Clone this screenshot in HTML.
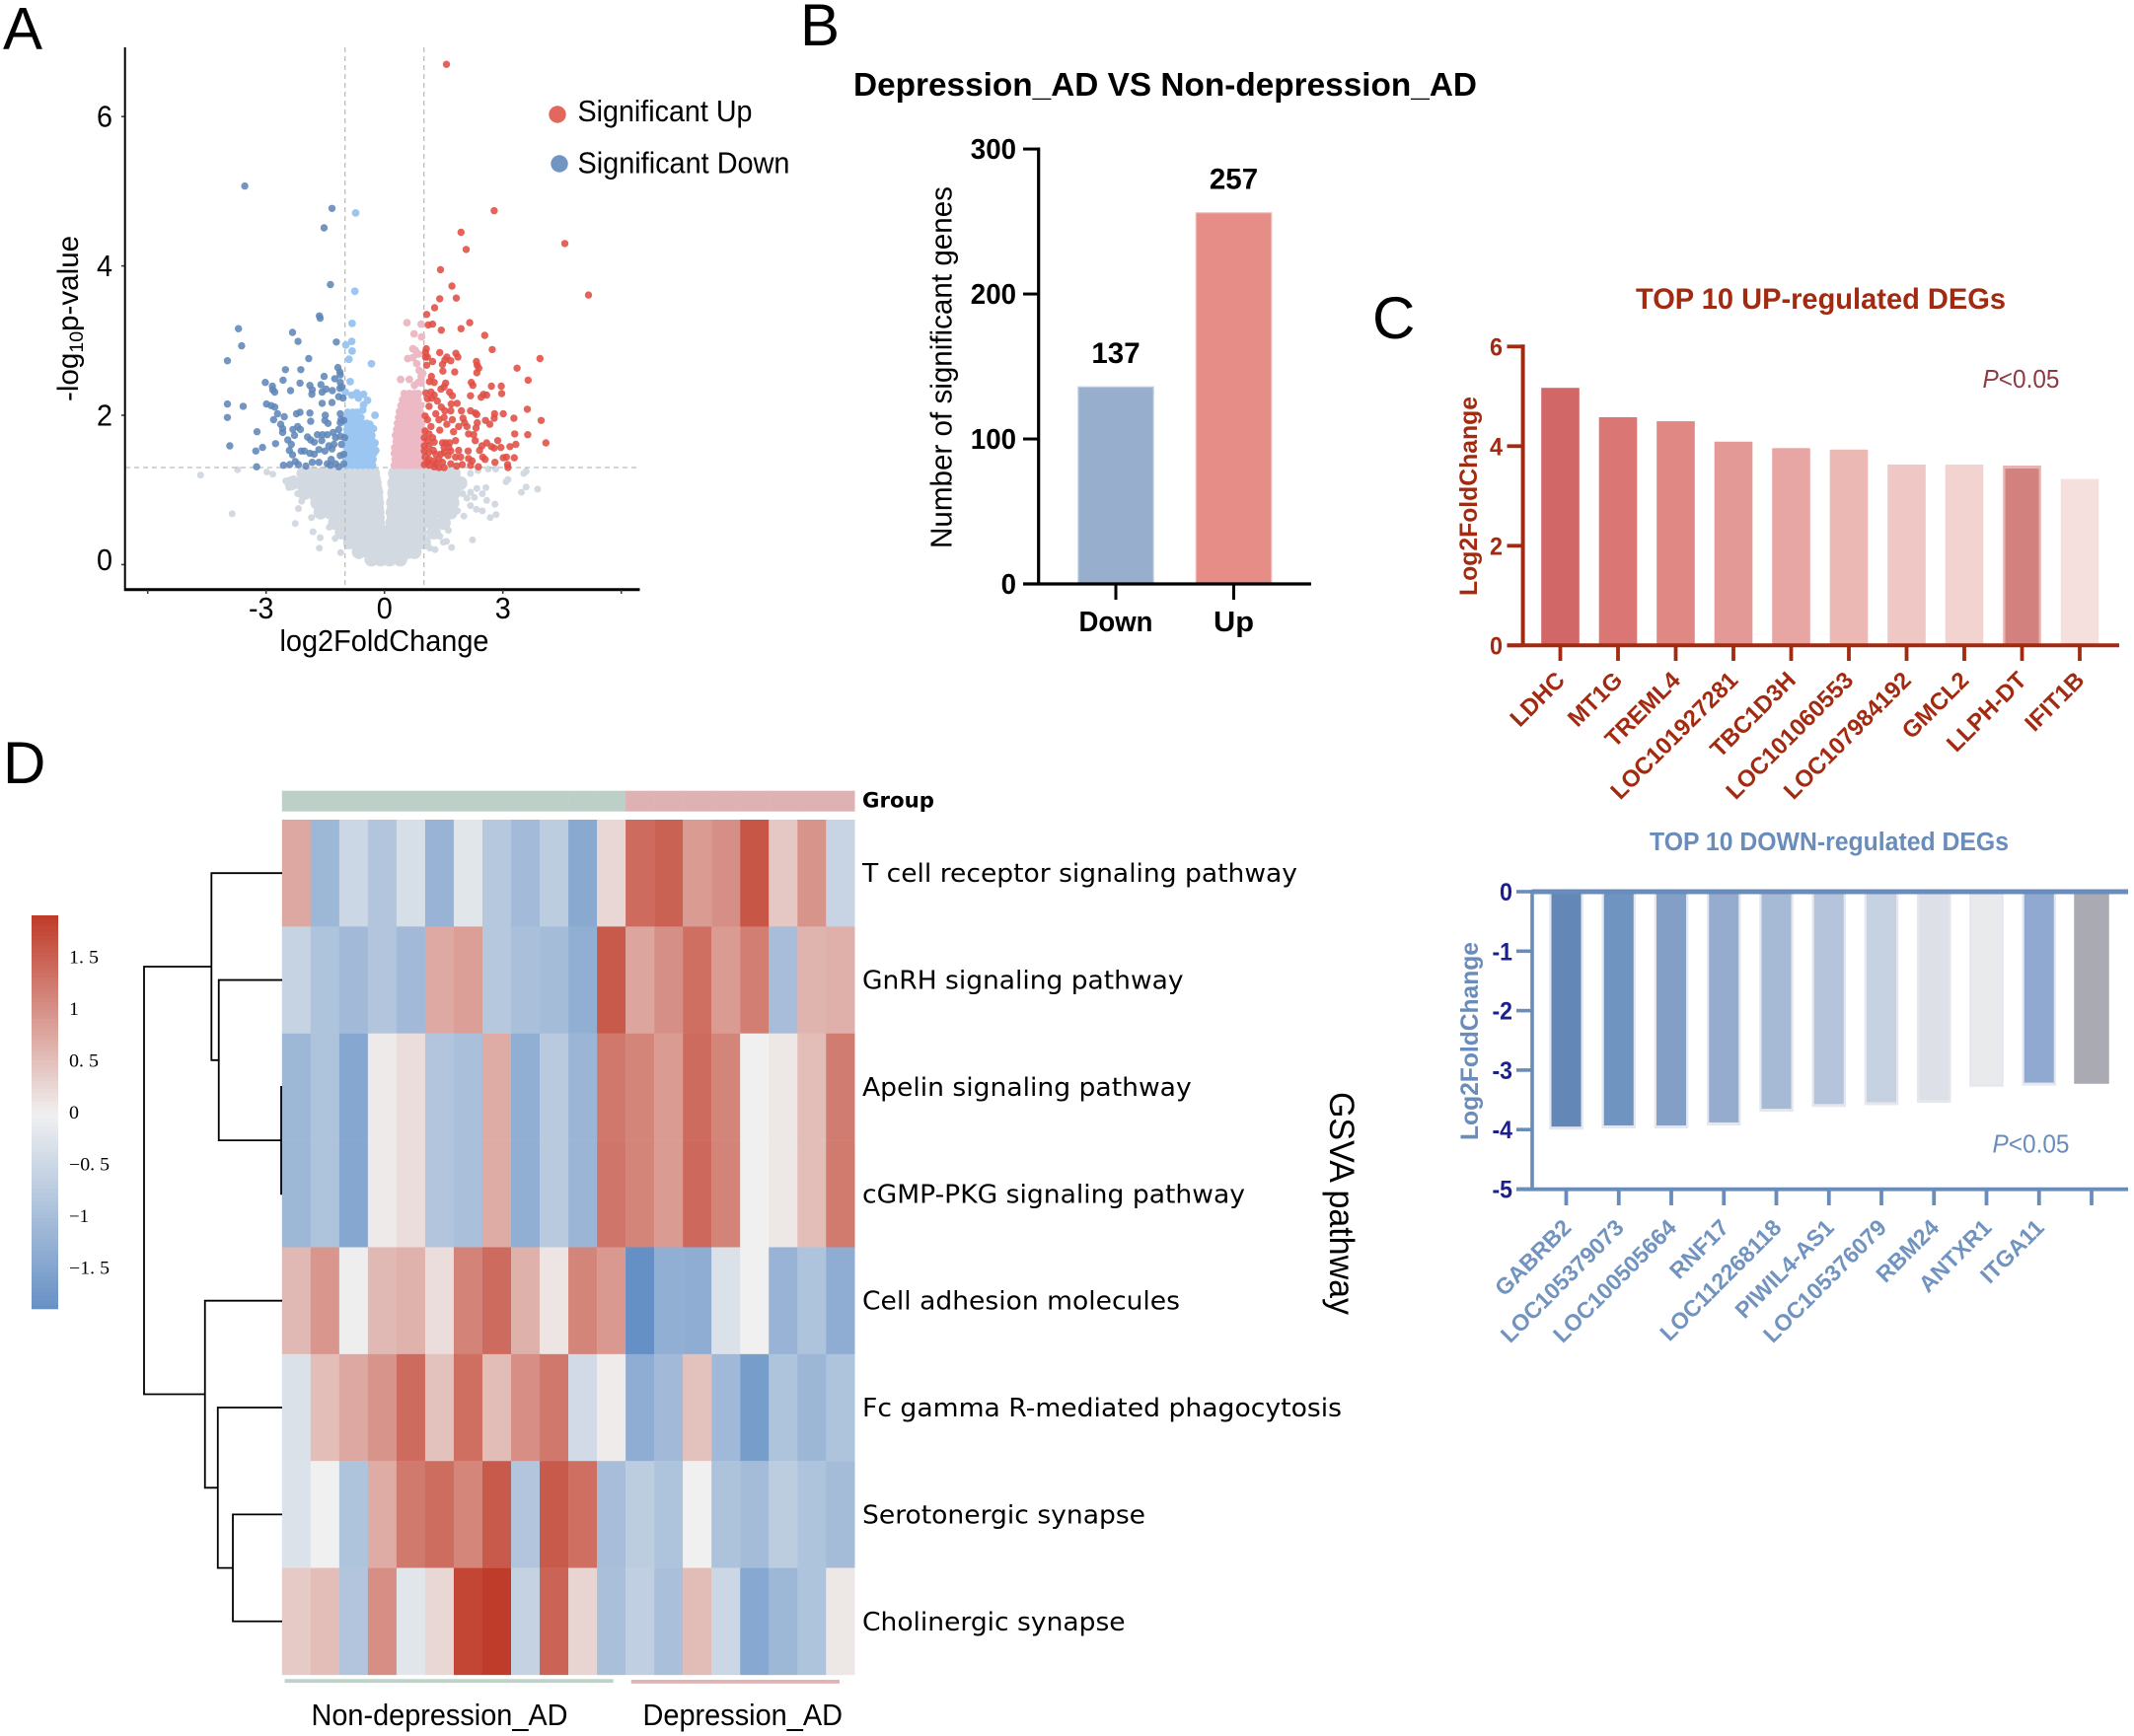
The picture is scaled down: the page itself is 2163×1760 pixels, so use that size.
<!DOCTYPE html>
<html lang="en">
<head>
<meta charset="utf-8">
<title>Depression_AD vs Non-depression_AD figure</title>
<style>
html,body{margin:0;padding:0;background:#fff;}
svg{display:block;}
text{font-family:"Liberation Sans",sans-serif;}
</style>
</head>
<body>
<svg id="fig" xmlns="http://www.w3.org/2000/svg" width="2163" height="1760" viewBox="0 0 2163 1760">
<rect width="2163" height="1760" fill="#fff"/>
<g font-size="60" fill="#000">
<text x="3" y="49.5">A</text>
<text x="811" y="46">B</text>
<text x="1391" y="343">C</text>
<text x="3" y="794">D</text>
</g>
<g id="volcano"></g>
<g id="countBars"></g>
<g id="upBars"></g>
<g id="downBars"></g>
<g id="heat"></g>

<g fill="#000" font-size="31">
<text x="283.5" y="660" textLength="212" lengthAdjust="spacingAndGlyphs">log2FoldChange</text>
<text font-size="29.6" transform="translate(79 407) rotate(-90)">-log<tspan font-size="19.5" dy="5">10</tspan><tspan dy="-5">p-value</tspan></text>
<circle cx="565" cy="116" r="8.7" fill="#e2675d"/>
<text x="585.5" y="123" textLength="177" lengthAdjust="spacingAndGlyphs">Significant Up</text>
<circle cx="567" cy="166" r="8.7" fill="#7095c2"/>
<text x="585.5" y="175.5" textLength="215" lengthAdjust="spacingAndGlyphs">Significant Down</text>
</g>

<g fill="#000">
<text x="865" y="97" font-size="33.3" font-weight="bold" textLength="632" lengthAdjust="spacingAndGlyphs">Depression_AD VS Non-depression_AD</text>
<text transform="translate(964.5 556) rotate(-90)" font-size="30.5" textLength="367" lengthAdjust="spacingAndGlyphs">Number of significant genes</text>
</g>

<g fill="#a22a10">
<text x="1658" y="313" font-size="29.5" font-weight="bold" textLength="375" lengthAdjust="spacingAndGlyphs">TOP 10 UP-regulated DEGs</text>
<text transform="translate(1497 604) rotate(-90)" font-size="24.7" font-weight="bold" textLength="202" lengthAdjust="spacingAndGlyphs">Log2FoldChange</text>
<text x="2009.5" y="393" font-size="25.5" fill="#8e3a45" textLength="78" lengthAdjust="spacingAndGlyphs"><tspan font-style="italic">P</tspan>&lt;0.05</text>
</g>

<g fill="#6a8cbb">
<text x="1672" y="862" font-size="25.5" font-weight="bold" textLength="364" lengthAdjust="spacingAndGlyphs">TOP 10 DOWN-regulated DEGs</text>
<text transform="translate(1498 1156) rotate(-90)" font-size="24.7" font-weight="bold" textLength="201" lengthAdjust="spacingAndGlyphs">Log2FoldChange</text>
<text x="2019.5" y="1168.5" font-size="25.5" textLength="78" lengthAdjust="spacingAndGlyphs"><tspan font-style="italic">P</tspan>&lt;0.05</text>
</g>

<g fill="#000">
<text x="874" y="818.5" font-size="21" font-weight="bold" style="font-family:'DejaVu Sans',sans-serif" textLength="73" lengthAdjust="spacingAndGlyphs">Group</text>
<text transform="translate(1348 1107) rotate(90)" font-size="35" textLength="226" lengthAdjust="spacingAndGlyphs">GSVA pathway</text>
<rect x="288.6" y="1702.3" width="333" height="3.8" fill="#bcd3c9"/>
<rect x="639.7" y="1703" width="211.3" height="3.8" fill="#e0b4b4"/>
<text x="315.5" y="1749" font-size="31" textLength="260" lengthAdjust="spacingAndGlyphs">Non-depression_AD</text>
<text x="651.5" y="1749" font-size="31" textLength="202.5" lengthAdjust="spacingAndGlyphs">Depression_AD</text>
</g>
</svg>

<script>
/* ---------- Panel A: volcano values (log2FC, -log10 p) ---------- */
const volcanoXTicks = [-6, -3, 0, 3, 6];
const volcanoXTickLabels = ['', '-3', '0', '3', ''];
const volcanoYTicks = [0, 2, 4, 6];
const volcanoFoldCutoffs = [-1, 1];
const volcanoPCutoff = 1.3;

const upPoints = [[1.57,6.70],[2.78,4.74],[1.94,4.45],[2.07,4.22],[4.57,4.30],[5.17,3.61],[1.42,3.95],[1.71,3.73],[1.40,3.56],[1.82,3.57],[1.27,3.44],[1.07,3.35],[2.16,3.24],[1.11,3.21],[1.22,3.22],
[1.44,3.14],[1.94,3.16],[2.54,3.07],[2.73,2.88],[3.94,2.76],[3.36,2.63],[3.64,2.47],[1.06,2.89],[1.04,2.84],[1.04,2.78],[1.09,2.78],[1.07,2.67],[1.22,2.72],[1.40,2.84],[1.58,2.78],[1.68,2.73],[1.47,2.68],[1.53,2.74],[1.81,2.83],[1.86,2.78],[2.33,2.72],[2.35,2.67],[2.39,2.63],[2.34,2.57],[1.48,2.59],[1.78,2.58],
[1.19,2.52],[1.14,2.45],[1.26,2.44],[1.55,2.43],[1.51,2.38],[1.43,2.35],[1.65,2.31],[1.72,2.26],[2.20,2.44],[2.24,2.40],[2.71,2.39],[2.96,2.39],[2.97,2.29],[2.51,2.28],[2.59,2.27],[2.45,2.24],[2.18,2.26],
[1.05,2.30],[1.18,2.31],[1.26,2.27],[1.09,2.22],[1.19,2.23],[1.34,2.19],[1.13,2.12],[1.69,2.15],[1.84,2.16],[1.44,2.11],[1.53,2.06],[1.68,2.06],[1.95,2.06],[2.18,2.06],[2.30,2.03],[2.34,2.01],[3.62,2.08],[3.97,1.93],[3.01,2.02],[3.28,1.96],[2.79,2.02],[2.78,1.96],[2.56,1.93],[2.67,1.88],[2.35,1.90],[2.32,1.83],
[1.03,1.99],[1.09,1.94],[1.30,2.02],[1.38,1.94],[1.51,1.97],[1.58,1.88],[1.72,1.94],[1.99,1.96],[2.03,1.90],[2.09,1.85],[1.88,1.85],[1.40,1.80],[1.75,1.78],[1.18,1.85],[1.03,1.79],[1.13,1.75],[2.13,1.75],[2.26,1.74],[2.30,1.66],[3.30,1.75],[3.63,1.74],[4.09,1.63],[2.87,1.66],
[1.01,1.70],[1.09,1.66],[1.22,1.70],[1.01,1.59],[1.13,1.59],[1.26,1.64],[1.01,1.52],[1.12,1.50],[1.24,1.53],[1.30,1.48],[1.47,1.63],[1.55,1.63],[1.65,1.63],[1.80,1.66],[1.51,1.57],[1.63,1.57],[1.51,1.50],[1.68,1.52],[1.88,1.53],[2.12,1.52],[2.41,1.53],[2.47,1.59],[2.59,1.63],[2.71,1.58],[2.78,1.56],[2.95,1.57],[3.18,1.58],[3.33,1.61],[3.29,1.43],[3.09,1.44],[3.01,1.43],[2.80,1.37],[3.12,1.34],[3.13,1.30],
[1.03,1.44],[1.13,1.41],[1.26,1.39],[1.38,1.41],[1.43,1.48],[1.61,1.46],[1.80,1.44],[1.93,1.44],[2.13,1.42],[2.22,1.39],[2.49,1.44],[2.55,1.41],
[1.01,1.34],[1.13,1.33],[1.26,1.31],[1.38,1.30],[1.51,1.30],[1.68,1.35],[1.83,1.32],[1.97,1.34],[2.18,1.33],[2.38,1.31],[1.09,1.37],[1.30,1.35],[1.47,1.37]];

const downPoints = [[-3.54,5.07],[-1.33,4.77],[-1.53,4.51],[-1.37,3.75],[-1.65,3.33],[-1.63,3.30],
[-3.70,3.16],[-3.62,2.93],[-3.98,2.73],[-2.33,3.11],[-2.19,2.99],[-1.22,2.98],[-1.92,2.76],[-2.51,2.61],[-2.12,2.61],[-1.18,2.64],[-1.13,2.58],[-1.12,2.54],[-1.53,2.52],[-3.02,2.44],[-2.57,2.47],[-2.14,2.43],[-2.84,2.39],[-2.83,2.34],[-2.78,2.31],[-2.38,2.33],[-1.89,2.40],[-1.83,2.34],[-1.84,2.28],[-1.61,2.41],[-1.48,2.35],[-1.58,2.31],[-1.32,2.33],[-1.26,2.49],[-1.12,2.44],[-1.08,2.38],[-1.13,2.36],[-1.16,2.25],[-1.05,2.23],
[-3.98,2.15],[-3.58,2.12],[-3.98,1.97],[-2.99,2.15],[-2.87,2.13],[-2.78,2.11],[-1.58,2.16],[-1.33,2.17],[-2.71,2.02],[-2.54,1.98],[-2.81,1.94],[-2.23,2.02],[-2.14,2.04],[-1.89,2.03],[-1.50,2.00],[-1.87,1.92],[-1.51,1.93],[-1.43,1.89],[-1.12,2.02],[-1.10,1.94],[-1.03,1.93],[-1.12,1.90],
[-2.63,1.88],[-2.58,1.82],[-2.58,1.77],[-3.23,1.78],[-2.20,1.85],[-2.32,1.81],[-2.13,1.81],[-2.28,1.73],[-2.45,1.67],[-2.36,1.61],[-2.76,1.62],[-3.92,1.59],[-1.95,1.71],[-1.87,1.67],[-1.78,1.64],[-1.70,1.74],[-1.57,1.74],[-1.59,1.66],[-1.45,1.74],[-1.30,1.77],[-1.16,1.81],[-1.24,1.70],[-1.12,1.72],[-1.01,1.70],[-1.41,1.59],[-1.28,1.61],[-1.33,1.55],[-1.09,1.61],
[-3.09,1.57],[-3.26,1.52],[-3.24,1.31],[-2.41,1.53],[-2.33,1.47],[-2.11,1.52],[-2.03,1.52],[-1.89,1.49],[-1.78,1.48],[-1.66,1.54],[-1.51,1.52],[-1.12,1.46],[-1.03,1.48],[-1.35,1.41],[-1.83,1.37],[-1.66,1.37],[-2.26,1.38],[-2.18,1.34],[-2.40,1.34],[-2.56,1.33],[-1.99,1.32],[-1.45,1.35],[-1.37,1.33],[-1.24,1.35],[-1.16,1.31],[-1.03,1.35]];

const weakDownPoints = [[-0.73,4.71],[-0.75,3.66],[-0.82,3.23],[-0.83,2.99],[-0.98,2.94],[-0.82,2.86],[-0.90,2.75],[-0.33,2.69],[-0.87,2.45],[-0.99,2.31],[-0.83,2.27],[-0.70,2.30],[-0.66,2.23],[-0.53,2.28],[-0.43,2.20],[-0.53,2.14],[-0.55,2.07],[-0.24,2.00],[-0.37,1.88],[-0.28,1.82],[-0.24,1.63],[-0.22,1.53],
[-.95,1.33],[-.82,1.33],[-.68,1.33],[-.55,1.33],[-.42,1.33],[-.30,1.33],[-.97,1.41],[-.84,1.41],[-.70,1.41],[-.57,1.41],[-.44,1.41],[-.29,1.41],[-.93,1.49],[-.80,1.49],[-.66,1.49],[-.53,1.49],[-.40,1.49],[-.27,1.49],[-.96,1.57],[-.83,1.57],[-.69,1.57],[-.56,1.57],[-.43,1.57],[-.28,1.57],[-.94,1.65],[-.81,1.65],[-.67,1.65],[-.54,1.65],[-.41,1.65],[-.30,1.65],[-.97,1.73],[-.84,1.73],[-.70,1.73],[-.57,1.73],[-.44,1.73],[-.32,1.73],[-.95,1.81],[-.82,1.81],[-.68,1.81],[-.55,1.81],[-.40,1.81],[-.96,1.89],[-.83,1.89],[-.70,1.89],[-.56,1.89],[-.45,1.89],[-.97,1.97],[-.85,1.97],[-.72,1.97],[-.60,1.97],[-.93,2.04],[-.80,2.04],[-.70,2.04]];

const weakUpPoints = [[0.57,3.24],[0.93,3.22],[0.75,3.09],[0.94,3.05],[0.72,2.89],[0.78,2.87],[0.59,2.76],[0.72,2.77],[0.86,2.82],[0.82,2.69],[0.88,2.60],[0.97,2.56],[0.93,2.52],[0.41,2.48],[0.63,2.48],[0.86,2.44],[0.76,2.40],[0.93,2.43],
[.25,1.33],[.38,1.33],[.51,1.33],[.64,1.33],[.77,1.33],[.90,1.33],[.27,1.41],[.40,1.41],[.53,1.41],[.66,1.41],[.79,1.41],[.93,1.41],[.25,1.49],[.39,1.49],[.52,1.49],[.65,1.49],[.78,1.49],[.92,1.49],[.26,1.57],[.40,1.57],[.53,1.57],[.67,1.57],[.80,1.57],[.94,1.57],[.30,1.65],[.43,1.65],[.56,1.65],[.69,1.65],[.82,1.65],[.95,1.65],[.28,1.73],[.41,1.73],[.55,1.73],[.68,1.73],[.81,1.73],[.93,1.73],[.31,1.81],[.44,1.81],[.57,1.81],[.70,1.81],[.83,1.81],[.96,1.81],[.33,1.89],[.46,1.89],[.59,1.89],[.72,1.89],[.85,1.89],[.94,1.89],[.36,1.97],[.49,1.97],[.62,1.97],[.75,1.97],[.88,1.97],[.38,2.05],[.51,2.05],[.64,2.05],[.77,2.05],[.90,2.05],[.42,2.13],[.55,2.13],[.68,2.13],[.81,2.13],[.92,2.13],[.46,2.21],[.59,2.21],[.72,2.21],[.85,2.21],[.50,2.29],[.63,2.29],[.76,2.29],[.86,2.29]];

const nsScatterPoints = [[-4.66,1.20],[-3.72,1.27],[-3.86,.68],[-2.98,1.24],[-2.83,1.21],[-2.26,.55],[-1.81,.44],[-1.65,.22],[-1.63,.36],[-1.11,.16],[-2.18,.75],[-1.85,.63],[2.63,1.28],[2.82,1.28],[3.59,1.25],[3.53,1.22],[3.13,1.14],[3.08,1.11],[3.59,1.04],[3.47,.97],[3.88,1.01],[2.57,1.03],[2.34,1.02],[2.18,.97],[2.09,.89],[2.28,.90],[2.48,.95],[2.59,.86],[2.80,.81],[2.18,.79],[2.33,.74],[2.48,.72],[2.83,.67],[2.68,.63],[2.23,.33],[1.70,.23],[1.57,.31],[1.49,.30],[1.28,.20],[2.01,.65],[2.37,1.26],[2.18,1.22],[-2.5,1.12],[-2.42,1.03],[-2.3,1.15],[-2.2,.95],[-2.1,.85],[-1.75,.82],[1.95,1.1],[1.98,.95],[1.85,.72],[1.62,.46],[1.4,.38],[1.15,.22],[-1.4,.5],[-1.25,.35],[-.95,.25],
[-.18,1.155],[.2,1.155],[-.14,1.025],[.19,1.025],[-.12,.895],[.17,.895],[-.1,.765],[.15,.765],[-.08,.63],[.14,.63],[-.06,.5],[.1,.5]];

/* non-significant dense core, drawn with wider marks: one list per -log10 p row */
const nsCoreRows = [1.22,1.09,.96,.83,.70,.56,.43,.30,.17,.07];
const nsCoreFold = [
[-2.05,-1.8,-1.55,-1.3,-1.05,-.8,-.55,-.29,.27,.52,.77,1.02,1.27,1.52,1.75],
[-2.35,-2.1,-1.85,-1.6,-1.35,-1.1,-.85,-.6,-.35,-.25,.25,.5,.75,1,1.25,1.5,1.75,1.92],
[-2.03,-1.8,-1.55,-1.3,-1.05,-.8,-.55,-.21,.25,.5,.75,1,1.25,1.5,1.75],
[-1.7,-1.45,-1.2,-.95,-.7,-.45,-.19,.22,.47,.72,.97,1.22,1.47,1.72],
[-1.62,-1.37,-1.12,-.87,-.62,-.37,-.18,.21,.46,.71,.96,1.21,1.46,1.68],
[-1.25,-1,-.75,-.5,-.17,.2,.45,.7,.95,1.2,1.5],
[-1.08,-.83,-.58,-.33,-.1,.15,.4,.65,.9,1.25],
[-.87,-.62,-.37,-.12,.13,.38,.63,.88,1.0],
[-.65,-.4,-.15,.1,.35,.6,.76],
[-.33,-.1,.13,.4]];

/* ---------- Panel B values ---------- */
const countCategories = ['Down', 'Up'];
const countValues = [137, 257];
const countTicks = [0, 100, 200, 300];

/* ---------- Panel C values ---------- */
const upGenes = ['LDHC','MT1G','TREML4','LOC101927281','TBC1D3H','LOC101060553','LOC107984192','GMCL2','LLPH-DT','IFIT1B'];
const upValues = [5.17,4.58,4.50,4.09,3.96,3.93,3.63,3.63,3.61,3.34];
const upTicks = [0,2,4,6];
const upColors = ['#d26768','#da7674','#e08884','#e39a96','#e7a6a3','#ebb8b4','#efc7c4','#f3d3d0','#e6b4b1','#f5e0de'];
const downGenes = ['GABRB2','LOC105379073','LOC100505664','RNF17','LOC112268118','PIWIL4-AS1','LOC105376079','RBM24','ANTXR1','ITGA11',''];
const downValues = [-4.0,-3.98,-3.98,-3.93,-3.70,-3.62,-3.59,-3.55,-3.28,-3.26,-3.23];
const downTicks = [0,-1,-2,-3,-4,-5];
const downColors = ['#6387b7','#7094c0','#839fc6','#95acce','#a6b9d5','#b5c4db','#c6d2e1','#dde1e7','#e9eaec','#8fa9d0','#aaaab2'];

/* ---------- Panel D values ---------- */
const pathways = ['T cell receptor signaling pathway','GnRH signaling pathway','Apelin signaling pathway','cGMP-PKG signaling pathway','Cell adhesion molecules','Fc gamma R-mediated phagocytosis','Serotonergic synapse','Cholinergic synapse'];
const pathwayLabelWidths = [441,325.5,333.7,388,322,486,287,266.6];
const sampleGroups = ['N','N','N','N','N','N','N','N','N','N','N','N','D','D','D','D','D','D','D','D'];
const heatValues = [
[.76,-1.13,-.5,-.85,-.35,-1.2,-.2,-.8,-1.05,-.7,-1.4,.26,1.4,1.5,.9,1.02,1.63,.42,.97,-.55],
[-.58,-.9,-1.07,-.85,-1.07,.75,.85,-.8,-.97,-1.03,-1.3,1.58,.78,1.02,1.36,.9,1.2,-1.0,.63,.68],
[-1.13,-.9,-1.45,.06,.2,-.85,-.97,.72,-1.3,-.75,-1.17,1.27,1.13,.9,1.4,1.13,0,.1,.53,1.22],
[-1.13,-.9,-1.45,.06,.2,-.85,-.97,.72,-1.3,-.75,-1.17,1.3,1.13,.9,1.42,1.15,0,.1,.53,1.24],
[.58,.95,.02,.58,.65,.2,1.15,1.4,.66,.12,1.13,.92,-1.9,-1.3,-1.33,-.3,0,-1.2,-.9,-1.33],
[-.3,.53,.76,.97,1.4,.5,1.36,.55,1.03,1.27,-.43,.05,-1.33,-1.07,.5,-1.08,-1.65,-.9,-1.15,-.9],
[-.27,0,-.9,.72,1.25,1.38,1.12,1.58,-.85,1.58,1.36,-1,-.7,-.9,0,-.92,-1.03,-.7,-.9,-1.03],
[.4,.53,-.85,1.03,-.2,.26,1.8,1.9,-.6,1.48,.3,-.97,-.65,-.97,.55,-.5,-1.43,-1.13,-.9,.1]];
const legendTicks = [1.5,1,.5,0,-.5,-1,-1.5];
const legendLabels = ['1. 5','1','0. 5','0','\u22120. 5','\u22121','\u22121. 5'];
const legendLabelWidths = [30,10,30,10,41,20,41];
const legendRange = [1.9,-1.89];
/* dendrogram merges: [childA, childB, branch height]; children >= 8 are earlier merges */
const dendroMerges = [[2,3,.007],[1,8,.459],[0,9,.512],[6,7,.357],[5,11,.466],[4,12,.559],[10,13,1]];

const NS = 'http://www.w3.org/2000/svg';
function make(tag, attrs, parent, txt){
  const el = document.createElementNS(NS, tag);
  for (const k in attrs) el.setAttribute(k, attrs[k]);
  if (txt !== undefined) el.textContent = txt;
  parent.appendChild(el);
  return el;
}

/* ---------- Volcano ---------- */
const vol = document.getElementById('volcano');
const volX = v => 389.7 + v * 40;
const volY = v => 572.4 - v * 75.7;
function dots(points, r, fill, op, name, parent){
  const g = make('g', {fill: fill, 'fill-opacity': op}, parent);
  
  
  points.forEach(p => {
    const c = make('circle', {cx: volX(p[0]).toFixed(1), cy: volY(p[1]).toFixed(1), r: r}, g);
    
    
  });
}
const coreGroup = make('g', {fill: '#d3d9e1'}, vol);


nsCoreRows.forEach((y, i) => nsCoreFold[i].forEach(x => {
  const c = make('circle', {cx: volX(x).toFixed(1), cy: volY(y).toFixed(1), r: 7.2}, coreGroup);
  
  
}));
dots(nsScatterPoints, 3.5, '#d3d9e1', 1, 'not-significant-point', vol);
volcanoFoldCutoffs.forEach(v => {
  const l = make('line', {x1: volX(v), x2: volX(v), y1: 48, y2: 597, stroke: '#bcbcbc', 'stroke-width': 1.3, 'stroke-dasharray': '5 4'}, vol);
  
  
});
const pLine = make('line', {x1: 127, x2: 648, y1: volY(volcanoPCutoff), y2: volY(volcanoPCutoff), stroke: '#bcbcbc', 'stroke-width': 1.3, 'stroke-dasharray': '5 4'}, vol);


dots(weakDownPoints, 3.9, '#9cc6f2', 1, 'weak-down-point', vol);
dots(weakUpPoints, 3.9, '#ecb9c5', 1, 'weak-up-point', vol);
dots(downPoints, 3.7, '#5f86b8', 0.88, 'significant-down-point', vol);
dots(upPoints, 3.7, '#e04f44', 0.88, 'significant-up-point', vol);
const volYAxis = make('line', {x1: 126.7, x2: 126.7, y1: 48, y2: 599, stroke: '#000', 'stroke-width': 2}, vol);


const volXAxis = make('line', {x1: 126, x2: 648.5, y1: 597.8, y2: 597.8, stroke: '#000', 'stroke-width': 3}, vol);


volcanoXTicks.forEach((v, i) => {
  const t = make('line', {x1: volX(v), x2: volX(v), y1: 598, y2: 602, stroke: '#333', 'stroke-width': 1.5}, vol);
  
  
  if (volcanoXTickLabels[i]) {
    const lb = make('text', {x: volX(v) - (v < 0 ? 5 : 0), y: 627, 'text-anchor': 'middle', 'font-size': 31, textLength: v < 0 ? 25.5 : 16, lengthAdjust: 'spacingAndGlyphs'}, vol, volcanoXTickLabels[i]);
    
    
  }
});
volcanoYTicks.forEach(v => {
  const t = make('line', {x1: 123, x2: 126, y1: volY(v), y2: volY(v), stroke: '#333', 'stroke-width': 1.5}, vol);
  
  
  const lb = make('text', {x: 114, y: volY(v) + (v === 0 ? 5.5 : 10.5), 'text-anchor': 'end', 'font-size': 31, textLength: 16, lengthAdjust: 'spacingAndGlyphs'}, vol, String(v));
  
  
});

/* ---------- Count bars ---------- */
const cb = document.getElementById('countBars');
const cntY = v => 593 - v * 1.47;
const cntXs = i => 1131 + i * 119.5;
const cntFill = ['#98aecd', '#e58d86'];
const cntBorder = ['#c3d1e4', '#f0b9b3'];
countValues.forEach((v, i) => {
  const r = make('rect', {x: cntXs(i) - 38.2, y: cntY(v) + 0.6, width: 76.4, height: 592 - cntY(v) - 0.6, fill: cntFill[i], stroke: cntBorder[i], 'stroke-width': 1.2}, cb);
  
  
  const lb = make('text', {x: cntXs(i), y: cntY(v) - 23.5, 'text-anchor': 'middle', 'font-size': 29.5, 'font-weight': 'bold'}, cb, String(v));
  
  
  const t = make('line', {x1: cntXs(i), x2: cntXs(i), y1: 592, y2: 608, stroke: '#000', 'stroke-width': 3}, cb);
  
  
  const c = make('text', {x: cntXs(i), y: 640, 'text-anchor': 'middle', 'font-size': 28.5, 'font-weight': 'bold', textLength: i === 0 ? 75 : 41, lengthAdjust: 'spacingAndGlyphs'}, cb, countCategories[i]);
  
  
});
const cntAxisY = make('line', {x1: 1052.7, x2: 1052.7, y1: 149.5, y2: 593.5, stroke: '#000', 'stroke-width': 3.2}, cb);


const cntAxisX = make('line', {x1: 1037, x2: 1329, y1: 592, y2: 592, stroke: '#000', 'stroke-width': 3.2}, cb);


countTicks.forEach(v => {
  const tickY = cntY(v) - 1 + v * 0.0003;
  const t = make('line', {x1: 1037, x2: 1052, y1: tickY, y2: tickY, stroke: '#000', 'stroke-width': 3}, cb);
  
  
  const lb = make('text', {x: 1030, y: tickY + 10, 'text-anchor': 'end', 'font-size': 28.5, 'font-weight': 'bold', textLength: String(v).length * 15.4, lengthAdjust: 'spacingAndGlyphs'}, cb, String(v));
  
  
});

/* ---------- Up bars ---------- */
const ub = document.getElementById('upBars');
const upY = v => 654.3 - v * 50.5;
const upXs = i => 1581.5 + i * 58.5;
upValues.forEach((v, i) => {
  const r = make('rect', {x: upXs(i) - 19.3, y: upY(v), width: 38.6, height: 654.3 - upY(v), fill: upColors[i]}, ub);
  
  
  if (upGenes[i] === 'LLPH-DT') {
    const inner = make('rect', {x: upXs(i) - 17, y: upY(v - 0.06), width: 34, height: 654.3 - upY(v - 0.06), fill: '#d3817f'}, ub);
    
    
  }
  const t = make('line', {x1: upXs(i), x2: upXs(i), y1: 654, y2: 670, stroke: '#a22a10', 'stroke-width': 3.8}, ub);
  
  
  const ax = upXs(i) + 6;
  const lb = make('text', {x: ax, y: 691, transform: 'rotate(-45 ' + ax + ' 691)', 'text-anchor': 'end', 'font-size': 24, 'font-weight': 'bold', fill: '#a22a10'}, ub, upGenes[i]);
  
  
});
const upAxisY = make('line', {x1: 1543.6, x2: 1543.6, y1: upY(6) - 2, y2: 656, stroke: '#a22a10', 'stroke-width': 4}, ub);


const upAxisX = make('line', {x1: 1527.5, x2: 2148, y1: 654.3, y2: 654.3, stroke: '#a22a10', 'stroke-width': 4}, ub);


upTicks.forEach(v => {
  const t = make('line', {x1: 1527.5, x2: 1543, y1: upY(v), y2: upY(v), stroke: '#a22a10', 'stroke-width': 3.8}, ub);
  
  
  const lb = make('text', {x: 1523, y: upY(v) + 9, 'text-anchor': 'end', 'font-size': 25, 'font-weight': 'bold', fill: '#a22a10', textLength: 13, lengthAdjust: 'spacingAndGlyphs'}, ub, String(v));
  
  
});

/* ---------- Down bars ---------- */
const db = document.getElementById('downBars');
const downY = v => 904 - v * 60.3;
const downXs = i => 1587.5 + i * 53.25;
downValues.forEach((v, i) => {
  const last = i === downValues.length - 1;
  const w = last ? 35.5 : 34.6;
  const o = make('rect', {x: downXs(i) - w / 2, y: 904, width: w, height: downY(v) - 904, fill: last ? downColors[i] : '#e4e8ee'}, db);
  
  
  if (!last) {
    const inner = make('rect', {x: downXs(i) - 15, y: 904, width: 30, height: downY(v + 0.05) - 904, fill: downColors[i]}, db);
    
    
  }
  const t = make('line', {x1: downXs(i), x2: downXs(i), y1: 1206, y2: 1222, stroke: '#6a8cbb', 'stroke-width': 3.8}, db);
  
  
  if (downGenes[i]) {
    const ax = downXs(i) + 6.5;
    const lb = make('text', {x: ax, y: 1246, transform: 'rotate(-45 ' + ax + ' 1246)', 'text-anchor': 'end', 'font-size': 23.2, 'font-weight': 'bold', fill: '#7093c0'}, db, downGenes[i]);
    
    
  }
});
const downAxisY = make('line', {x1: 1553, x2: 1553, y1: 902, y2: 1207, stroke: '#6a8cbb', 'stroke-width': 3.6}, db);


const downAxisTop = make('line', {x1: 1553, x2: 2157, y1: 904, y2: 904, stroke: '#6a8cbb', 'stroke-width': 5}, db);


const downAxisBottom = make('line', {x1: 1537, x2: 2157, y1: 1205.7, y2: 1205.7, stroke: '#6a8cbb', 'stroke-width': 3.8}, db);


downTicks.forEach(v => {
  const t = make('line', {x1: 1537, x2: 1553, y1: downY(v), y2: downY(v), stroke: '#6a8cbb', 'stroke-width': 3.6}, db);
  
  
  const lb = make('text', {x: 1533, y: downY(v) + 9, 'text-anchor': 'end', 'font-size': 25, 'font-weight': 'bold', fill: '#1b1f8a', textLength: v < 0 ? 20.5 : 13, lengthAdjust: 'spacingAndGlyphs'}, db, String(v));
  
  
});

/* ---------- Heatmap ---------- */
const hm = document.getElementById('heat');
const cellW = (866.3 - 285.8) / 20;
const rowH = 108.37;
const heatX = c => 285.8 + c * cellW;
const heatY = r => 831 + r * rowH;
function heatColor(v){
  const t = Math.min(Math.abs(v) / 1.9, 1);
  const rgb = v >= 0
    ? [240 - 48 * t, 240 - 180 * t, 240 - 198 * t]
    : [240 - 139 * t, 240 - 96 * t, 240 - 43 * t];
  return 'rgb(' + rgb.map(Math.round).join(',') + ')';
}
sampleGroups.forEach((g, c) => {
  const r = make('rect', {x: heatX(c), y: 801.7, width: cellW + 0.2, height: 21, fill: g === 'N' ? '#bcd0c8' : '#deb1b3'}, hm);
  
  
});
heatValues.forEach((row, r) => {
  row.forEach((v, c) => {
    const cell = make('rect', {x: heatX(c).toFixed(2), y: heatY(r).toFixed(2), width: (cellW + 0.2).toFixed(2), height: (rowH + 0.2).toFixed(2), fill: heatColor(v)}, hm);
    
    
  });
  const lb = make('text', {x: 874, y: heatY(r) + rowH / 2 + 9, 'font-size': 25.5, textLength: pathwayLabelWidths[r], lengthAdjust: 'spacingAndGlyphs', style: "font-family:'DejaVu Sans',sans-serif"}, hm, pathways[r]);
  
  
});

/* dendrogram */
const dendroX = h => 286 - h * 140;
const nodePos = pathways.map((p, r) => ({x: 286, y: heatY(r) + rowH / 2}));
dendroMerges.forEach(m => {
  const a = nodePos[m[0]], b = nodePos[m[1]], x = dendroX(m[2]);
  const path = make('path', {d: 'M' + a.x + ' ' + a.y + 'H' + x + 'V' + b.y + 'H' + b.x, fill: 'none', stroke: '#000', 'stroke-width': 1.8}, hm);
  
  
  nodePos.push({x: x, y: (a.y + b.y) / 2});
});

/* colour legend */
const lgY = v => 1127.5 - v * 105;
const lgStep = 0.04;
for (let v = legendRange[0]; v > legendRange[1]; v -= lgStep) {
  const s = make('rect', {x: 32, y: lgY(v).toFixed(2), width: 27, height: (lgStep * 105 + 0.3).toFixed(2), fill: heatColor(v)}, hm);
  
  
}
legendTicks.forEach((v, i) => {
  const lb = make('text', {x: 70, y: lgY(v) + 6.5, 'font-size': 18.5, textLength: legendLabelWidths[i], lengthAdjust: 'spacingAndGlyphs', style: "font-family:'Liberation Serif',serif"}, hm, legendLabels[i]);
  
  
});
</script>
</body>
</html>
